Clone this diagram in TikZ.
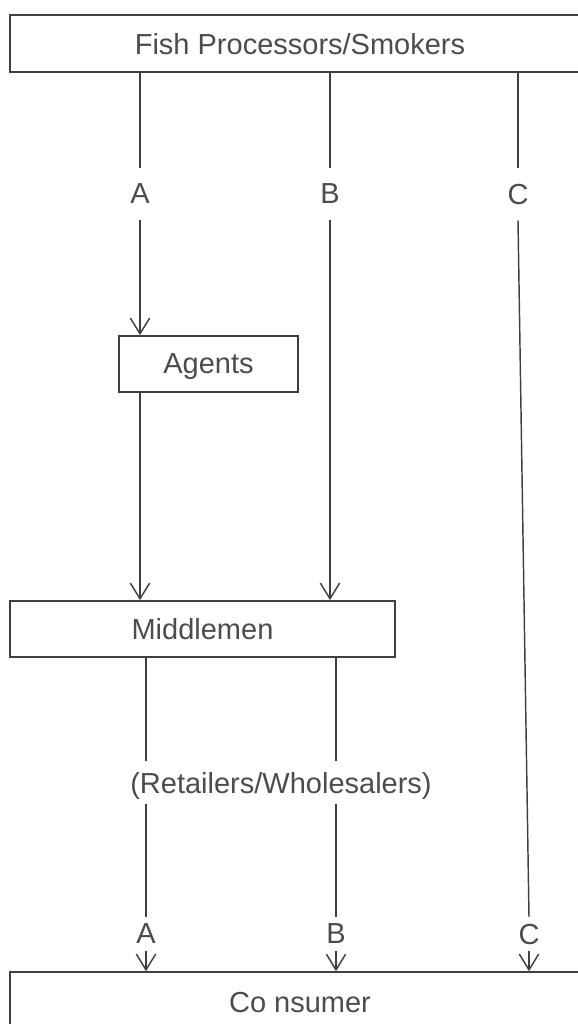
\documentclass[tikz,border=0pt]{standalone}
\usepackage{fontspec}
\setmainfont{Liberation Sans}
\usetikzlibrary{arrows.meta}

\begin{document}
\begin{tikzpicture}[x=0.4138pt,y=-0.4138pt,
font=\fontsize{12}{14}\selectfont,
box/.style={rectangle,draw=black!75,line width=0.7pt,text=black!70,inner sep=0pt,text depth=0pt},
letter/.style={text=black!70,inner sep=0pt,text depth=0pt,minimum height=21.5pt},
link/.style={draw=black!75,line width=0.6pt},
arrow/.style={link,-{Straight Barb[length=6.5pt,width=8pt]}}]
\useasboundingbox (0,0) rectangle (578,1024);
\node[box,minimum width=240pt,minimum height=23.6pt] (proc) at (300,43.5) {Fish Processors/Smokers};
\node[box,minimum width=74.1pt,minimum height=23.2pt] (agents) at (208.5,364) {Agents};
\node[box,minimum width=159.3pt,minimum height=23.2pt] (middle) at (202.5,629) {Middlemen};
\node[box,minimum width=240pt,minimum height=24.8pt] (cons) at (300,1002) {Co nsumer};
\node[letter] (tA) at (140,194) {A};
\node[letter] (tB) at (330,194) {B};
\node[letter] (tC) at (518,194) {C};
\node[letter,minimum height=17pt] (retail) at (281,782.5) {(Retailers/Wholesalers)};
\node[letter,minimum height=13.7pt] (bA) at (146,934) {A};
\node[letter,minimum height=13.7pt] (bB) at (336,934) {B};
\node[letter,minimum height=13.7pt] (bC) at (529,934) {C};
% A
\draw[link] (proc.south -| tA) -- (tA.north);
\draw[arrow] (tA.south) -- (agents.north -| tA);
\draw[arrow] (agents.south -| tA) -- (middle.north -| tA);
\draw[link] (middle.south -| bA) -- (retail.north -| bA);
\draw[link] (retail.south -| bA) -- (bA.north);
\draw[arrow] (bA.south) -- (cons.north -| bA);
% B
\draw[link] (proc.south -| tB) -- (tB.north);
\draw[arrow] (tB.south) -- (middle.north -| tB);
\draw[link] (middle.south -| bB) -- (retail.north -| bB);
\draw[link] (retail.south -| bB) -- (bB.north);
\draw[arrow] (bB.south) -- (cons.north -| bB);
% C
\draw[link] (proc.south -| tC) -- (tC.north);
\draw[link] (tC.south) -- (bC.north);
\draw[arrow] (bC.south) -- (cons.north -| bC);
\end{tikzpicture}
\end{document}
